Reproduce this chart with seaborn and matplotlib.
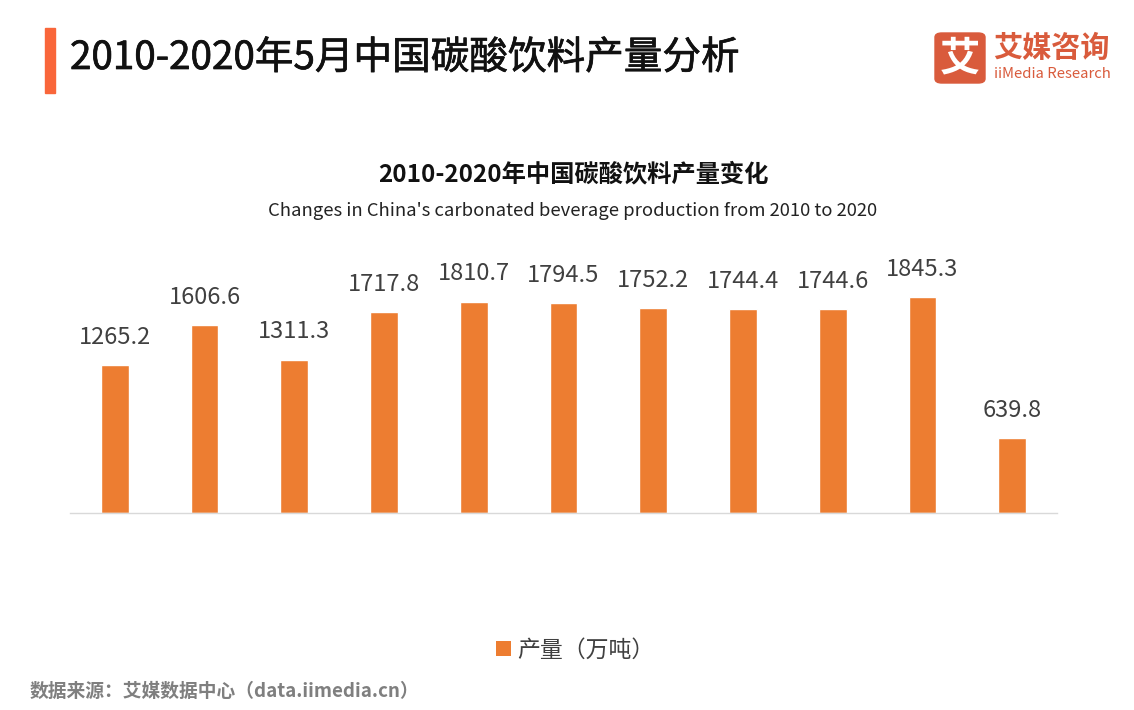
import matplotlib
matplotlib.use("Agg")
import matplotlib.pyplot as plt
import matplotlib.patheffects as pe
from matplotlib.patches import FancyBboxPatch, Rectangle, Patch
import seaborn as sns
import pandas as pd

years = ["2010", "2011", "2012", "2013", "2014", "2015", "2016", "2017", "2018", "2019", "2020.1-5"]
production = [1265.2, 1606.6, 1311.3, 1717.8, 1810.7, 1794.5, 1752.2, 1744.4, 1744.6, 1845.3, 639.8]
series_name = "产量（万吨）"

sns.set_theme(style="white")
plt.rcParams["font.family"] = ["Noto Sans CJK SC", "DejaVu Sans"]

df = pd.DataFrame({"year": years, "value": production})

fig = plt.figure(figsize=(11.34, 7.10), dpi=100)
ax = fig.add_axes([70 / 1134, (710 - 513) / 710, 987 / 1134, 232.4 / 710])

bar_color = "#ED7D31"
sns.barplot(data=df, x="year", y="value", color=bar_color, saturation=1, width=0.31, ax=ax)

ax.set_xlim(-0.5, len(years) - 0.5)
ax.set_ylim(0, 1990)
ax.set_xticks([])
ax.set_yticks([])
ax.set_xlabel("")
ax.set_ylabel("")
for s in ["top", "right", "left"]:
    ax.spines[s].set_visible(False)
ax.spines["bottom"].set_color("#D9D9D9")
ax.spines["bottom"].set_linewidth(1)

for i, v in enumerate(production):
    ax.annotate(f"{v:.1f}", xy=(i, v), xytext=(0, 12), textcoords="offset points",
                ha="center", va="bottom", fontsize=17, color="#404040", annotation_clip=False)

# Header
fig.patches.append(Rectangle((45 / 1134, 1 - 93 / 710), 10 / 1134, 65 / 710,
                             transform=fig.transFigure, color="#F9663A", zorder=5))
fig.text(70 / 1134, 1 - 58 / 710, "2010-2020年5月中国碳酸饮料产量分析", fontsize=27.8,
         color="#111111", va="center", ha="left",
         path_effects=[pe.withStroke(linewidth=0.5, foreground="#111111")])

# Logo
fig.patches.append(FancyBboxPatch((935 / 1134, 1 - 83 / 710), 50 / 1134, 50 / 710,
                                  boxstyle="round,pad=0,rounding_size=0.006",
                                  transform=fig.transFigure, color="#D95B3C", zorder=5))
fig.text(960 / 1134, 1 - 59 / 710, "艾", fontsize=29, fontweight="bold", color="white",
         ha="center", va="center", zorder=6)
fig.text(993 / 1134, 1 - 48 / 710, "艾媒咨询", fontsize=21, fontweight="bold", color="#D95B3C",
         ha="left", va="center")
fig.text(994 / 1134, 1 - 74 / 710, "iiMedia Research", fontsize=10.7, color="#D95B3C",
         ha="left", va="center")

# Chart titles
fig.text(573 / 1134, 1 - 174 / 710, "2010-2020年中国碳酸饮料产量变化", fontsize=17.5,
         fontweight="bold", color="#111111", ha="center", va="center")
fig.text(573 / 1134, 1 - 211 / 710, "Changes in China's carbonated beverage production from 2010 to 2020",
         fontsize=13.3, color="#222222", ha="center", va="center")

# Legend
fig.legend(handles=[Patch(facecolor=bar_color, edgecolor="none", label=series_name)],
           loc="center left", bbox_to_anchor=(475 / 1134, 1 - 650 / 710), frameon=False,
           fontsize=16.5, handlelength=0.65, handleheight=0.65, handletextpad=0.3,
           labelcolor="#404040")

# Source
fig.text(30 / 1134, 1 - 691 / 710, "数据来源：艾媒数据中心（data.iimedia.cn）", fontsize=13.5,
         fontweight="bold", color="#7F7F7F", ha="left", va="center")

fig.savefig("out.png", dpi=100, facecolor="white")
